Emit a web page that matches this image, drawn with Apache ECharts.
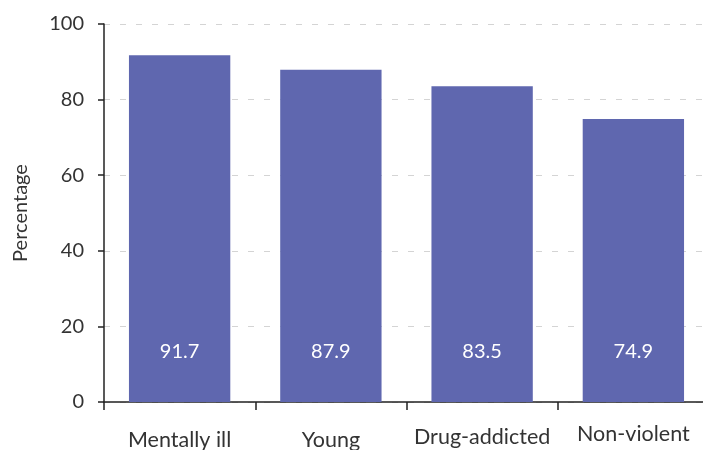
<!DOCTYPE html>
<html>
<head>
<meta charset="utf-8">
<script src="https://cdn.jsdelivr.net/npm/echarts@6/dist/echarts.min.js"></script>
<style>html,body{margin:0;padding:0;background:#fff}#c{width:703px;height:450px}</style>
</head>
<body>
<div id="c"></div>
<script>
const categories = ['Mentally ill', 'Young', 'Drug-addicted', 'Non-violent'];
const values = [91.7, 87.9, 83.5, 74.9];
const yTicks = [0, 20, 40, 60, 80, 100];
const yAxisTitle = 'Percentage';

const FONT = 'Lato';
const labelOffsets = [6, 6, 3, 0];
const rich = {};
labelOffsets.forEach((o, i) => { rich['a' + i] = { padding: [o, 0, 0, 0], fontSize: 21.5, fontFamily: FONT, color: '#333' }; });

const chart = echarts.init(document.getElementById('c'));
chart.setOption({
  animation: false,
  grid: { left: 104, top: 24, bottom: 48, right: -6, outerBoundsMode: 'none', containLabel: false },
  xAxis: {
    type: 'category',
    data: categories,
    axisLine: { lineStyle: { color: '#222', width: 1.5 } },
    axisTick: { show: true, length: 8, lineStyle: { color: '#222', width: 1.5 } },
    axisLabel: {
      margin: 21,
      interval: 0,
      formatter: (v, i) => '{a' + i + '|' + v + '}',
      rich: rich
    }
  },
  yAxis: {
    type: 'value',
    min: yTicks[0],
    max: yTicks[yTicks.length - 1],
    interval: 20,
    name: yAxisTitle,
    nameLocation: 'middle',
    nameGap: 73,
    nameRotate: 90,
    nameTextStyle: { fontFamily: FONT, fontSize: 20, color: '#333' },
    axisLine: { show: true, lineStyle: { color: '#222', width: 1.5 } },
    axisTick: { show: true, length: 6, lineStyle: { color: '#222', width: 1.5 } },
    axisLabel: { margin: 20, fontFamily: FONT, fontSize: 20, color: '#333' },
    splitLine: { show: true, lineStyle: { color: '#d4d4d4', type: [6, 10], width: 1.2 } }
  },
  series: [{
    type: 'bar',
    data: values,
    barWidth: '67%',
    itemStyle: { color: '#5f67af' },
    label: {
      show: true,
      position: 'insideBottom',
      distance: 40,
      fontFamily: FONT,
      fontSize: 20,
      color: '#fff',
      formatter: p => p.value.toFixed(1)
    }
  }]
});
</script>
</body>
</html>
